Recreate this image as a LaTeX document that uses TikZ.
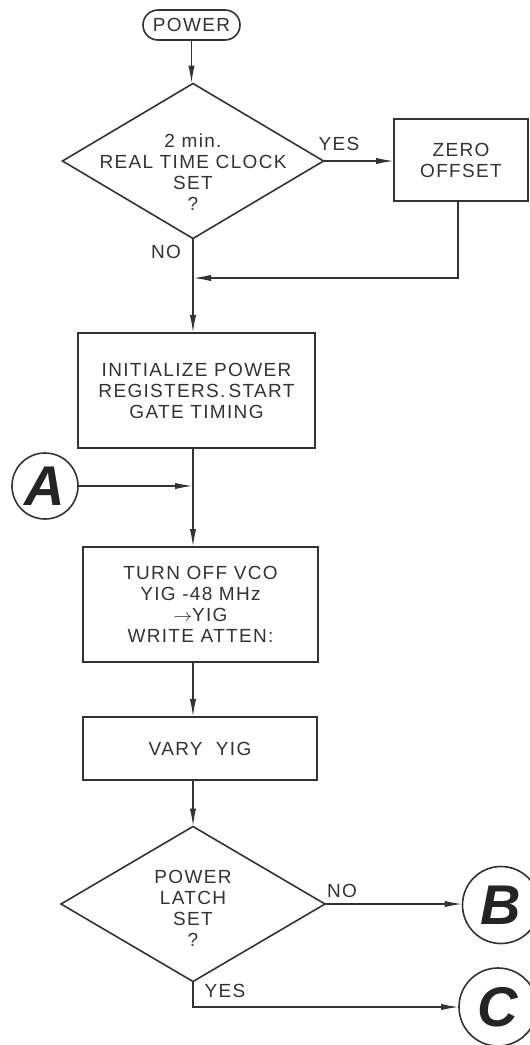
\documentclass[tikz,border=0pt]{standalone}
\usepackage{fontspec}
\setmainfont{Liberation Sans}
\newfontfamily\labfont[LetterSpace=7]{Liberation Sans}
\newfontfamily\connfont{Liberation Sans}
\usetikzlibrary{arrows.meta,shapes.geometric}
\definecolor{ink}{gray}{0.2}
\definecolor{txt}{gray}{0.2}
\begin{document}
\begin{tikzpicture}[x=0.5pt,y=-0.5pt,
  every node/.style={outer sep=0pt},
  lab/.style={font=\labfont\fontsize{9.5}{10.5}\selectfont, text=txt, align=center, inner sep=0pt},
  box/.style={draw=ink, line width=0.8pt, inner sep=0pt},
  term/.style={box, rounded corners=7.5pt},
  dec/.style={draw=ink, line width=0.8pt, diamond, inner sep=0pt},
  conn/.style={draw=ink, line width=0.8pt, circle, inner sep=0pt, text=ink!70!black,
    font=\connfont\fontsize{28}{28}\selectfont\bfseries\itshape},
  line/.style={draw=ink, line width=0.8pt},
  arr/.style={line, -{Latex[length=9pt,width=3.2pt]}}
]
\useasboundingbox (0,0) rectangle (530,1045);
\fill[white] (0,0) rectangle (530,1045);

% nodes
\node[term, lab, minimum width=48.5pt, minimum height=15pt] (power) at (191.5,25) {POWER};
\node[dec, minimum width=130.5pt, minimum height=77.5pt] (d1) at (193,161) {};
\node[lab] (d1t) at (193,172) {2 min.\\REAL TIME CLOCK\\SET\\?};
\node[box, lab, minimum width=67pt, minimum height=41pt] (zero) at (461,160) {ZERO\\OFFSET};
\node[box, lab, minimum width=118.5pt, minimum height=57.5pt] (init) at (196.5,390.5) {INITIALIZE POWER\\REGISTERS.\,START\\GATE TIMING};
\node[conn, minimum size=33pt] (A) at (45,486) {A};
\node[box, lab, minimum width=117.5pt, minimum height=57.5pt] (vco) at (200.5,604.5) {TURN OFF VCO\\YIG -48 MHz\\$\rightarrow$YIG\\WRITE ATTEN:};
\node[box, lab, minimum width=117pt, minimum height=31.5pt] (vary) at (200,748.5) {VARY\ \ YIG};
\node[dec, minimum width=132pt, minimum height=77.5pt] (d2) at (193,904) {};
\node[lab] (d2t) at (193,908) {POWER\\LATCH\\SET\\?};
\node[conn, minimum size=38.5pt] (B) at (501,905) {B};
\node[conn, minimum size=39pt] (C) at (498,1007) {C};

% branch labels
\node[lab] (yes1) at (339,144) {YES};
\node[lab] (no1) at (166,252) {NO};
\node[lab] (no2) at (342,891) {NO};
\node[lab] (yes2) at (225,991) {YES};

% junctions
\coordinate (j1) at (193,278);

% connectors
\draw[arr] (power.south) -- (power.south |- d1.north);
\draw[arr] (d1.east) -- (zero.west |- d1.east);
\draw[arr] (d1.south) -- (d1.south |- init.north);
\draw[arr] ([xshift=-1.5pt]zero.south) |- (j1);
\draw[arr] (A.east) -- (A.east -| d1.south);
\draw[arr] (init.south -| d1.south) -- (vco.north -| d1.south);
\draw[arr] (vco.south -| d1.south) -- (vary.north -| d1.south);
\draw[arr] (vary.south -| d1.south) -- (d2.north);
\draw[arr] (d2.east) -- (d2.east -| B.west);
\draw[arr] (d2.south) |- (C.west);
\end{tikzpicture}
\end{document}
